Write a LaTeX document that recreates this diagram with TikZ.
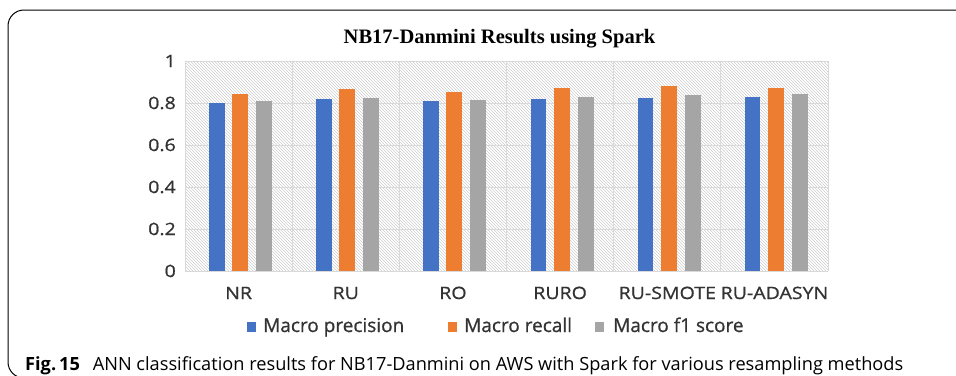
\documentclass[tikz,border=0pt]{standalone}
\usepackage{fontspec}
\setmainfont{Liberation Serif}
\newfontfamily\chartsans{Open Sans}
\newfontfamily\axissans[FakeStretch=1.15,FakeBold=1]{Open Sans}
\newfontfamily\legendsans[FakeBold=0.8]{Open Sans}
\usetikzlibrary{patterns,positioning}
\definecolor{precblue}{RGB}{68,114,196}
\definecolor{recorange}{RGB}{237,125,49}
\definecolor{fonegray}{RGB}{165,165,165}
\definecolor{gridline}{RGB}{217,217,217}
\definecolor{hatch}{RGB}{205,205,205}
\newcommand{\pxsize}[1]{\fontsize{#1}{#1}\selectfont}
\tikzset{
  grid line/.style={draw=gridline,line width=1pt},
  ticklabel/.style={font=\axissans\pxsize{17},text=black!80,anchor=base east,inner sep=0pt},
  catlabel/.style={font=\axissans\pxsize{17},text=black!80,anchor=base,inner sep=0pt},
  legend key/.style={fill=#1,minimum size=9.5pt,inner sep=0pt},
  legend text/.style={font=\legendsans\pxsize{19},text=black!80,anchor=base west,inner sep=0pt},
  charttitle/.style={font=\bfseries\pxsize{20.5},anchor=base,inner sep=0pt},
  caption/.style={font=\chartsans\pxsize{18.2},anchor=base west,inner sep=0pt},
}

\begin{document}
\begin{tikzpicture}[x=1pt,y=-1pt]
  \useasboundingbox (0,0) rectangle (956,375);
  \clip (0,0) rectangle (956,375);
  % frame
  \draw[line width=1pt,rounded corners=16pt] (970,10) -- (8,10) -- (8,378) -- (40,378);
  % plot area: hatching and grid
  \fill[pattern=north west lines,pattern color=hatch] (185,61) rectangle (828,271);
  \foreach \v [count=\i] in {0,0.2,0.4,0.6,0.8,1}{
    \draw[grid line] (185,{271-210*\v}) -- (828,{271-210*\v});
    \node[ticklabel] (tick\i) at (176,{277-210*\v}) {\v};
  }
  \foreach \k in {0,...,6}
    \draw[grid line] ({185+107.17*\k},61) -- ({185+107.17*\k},271);
  % bars
  \foreach \name/\p/\r/\f [count=\i from 0] in {NR/0.799/0.845/0.81,RU/0.817/0.865/0.824,
      RO/0.81/0.852/0.814,RURO/0.817/0.871/0.83,RU-SMOTE/0.824/0.879/0.836,RU-ADASYN/0.83/0.871/0.844}{
    \pgfmathsetmacro\cx{238.6+107.17*\i}
    \fill[precblue] (\cx-29.5,271) rectangle (\cx-14,{271-210*\p});
    \fill[recorange] (\cx-6.5,271) rectangle (\cx+9.5,{271-210*\r});
    \fill[fonegray] (\cx+17.5,271) rectangle (\cx+33.5,{271-210*\f});
    \node[catlabel] (cat\i) at (\cx,299) {\name};
  }
  \node[charttitle] (title) at (499.5,43) {NB17-Danmini Results using Spark};
  % legend
  \node[legend key=precblue] (keyP) at (251.5,327) {};
  \node[legend text] (labP) at (263,332) {Macro precision};
  \node[legend key=recorange] (keyR) at (452.5,327) {};
  \node[legend text] (labR) at (464,332) {Macro recall};
  \node[legend key=fonegray] (keyF) at (599.5,327) {};
  \node[legend text] (labF) at (613,332) {Macro f1 score};
  % caption
  \node[caption] (cap) at (25,370) {\textbf{Fig.\,15}\hspace{0.7em}ANN classification results for NB17-Danmini on AWS with Spark for various resampling methods};
\end{tikzpicture}
\end{document}
